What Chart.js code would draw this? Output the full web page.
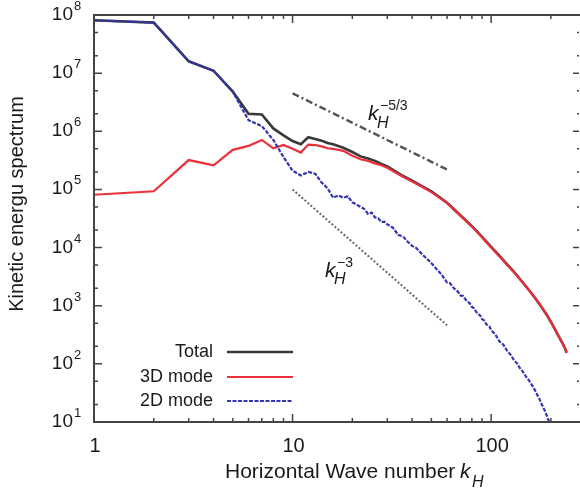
<!DOCTYPE html>
<html>
<head>
<meta charset="utf-8">
<script src="https://cdn.jsdelivr.net/npm/chart.js@4.4.0/dist/chart.umd.min.js"></script>
<style>
    body { margin: 0; background: #fff; }
    canvas { display: block; }
</style>
</head>
<body>
<canvas id="myChart" width="580" height="489"></canvas>
<script>
var kTotal = [1, 2, 3, 4, 5, 6, 7, 8, 9, 10, 11, 12, 13, 14, 15, 16, 18, 20, 22, 24, 26, 28, 30, 35, 40, 45, 50, 60, 70, 80, 90, 100, 110, 120, 130, 140, 150, 160, 170, 180, 190, 200, 210, 220, 230, 236, 240];
var total = [8.1e7, 7.4e7, 1.6e7, 1.1e7, 4.8e6, 2.0e6, 1.95e6, 1.12e6, 8.5e5, 6.8e5, 6.0e5, 7.9e5, 7.4e5, 6.9e5, 6.3e5, 6.0e5, 5.2e5, 4.4e5, 3.7e5, 3.4e5, 3.1e5, 2.75e5, 2.5e5, 1.8e5, 1.42e5, 1.13e5, 9.3e4, 5.9e4, 3.6e4, 2.33e4, 1.53e4, 1.03e4, 7.25e3, 5.2e3, 3.85e3, 2.85e3, 2.14e3, 1.62e3, 1.23e3, 933, 708, 525, 389, 288, 219, 182, 155];
var mode3D = [8.1e4, 9.3e4, 3.2e5, 2.6e5, 4.8e5, 5.6e5, 7.1e5, 5.1e5, 5.8e5, 5.0e5, 4.3e5, 5.9e5, 5.8e5, 5.5e5, 5.1e5, 5.0e5, 4.6e5, 3.8e5, 3.3e5, 3.1e5, 2.8e5, 2.6e5, 2.35e5, 1.74e5, 1.37e5, 1.1e5, 9.0e4, 5.8e4, 3.55e4, 2.3e4, 1.5e4, 1.0e4, 7.1e3, 5.13e3, 3.8e3, 2.82e3, 2.14e3, 1.62e3, 1.23e3, 933, 708, 525, 389, 288, 219, 182, 155];

var kMode2D = [1, 2, 3, 4, 5, 6, 7, 8, 9, 10, 11, 12, 13, 14, 15, 16, 17, 18, 19, 20, 21, 22, 23, 24, 25, 26, 27, 28, 29, 30, 32, 34, 36, 38, 40, 42, 45, 48, 50, 53, 56, 60, 62, 64, 66, 68, 70, 72, 75, 78, 80, 82, 85, 88, 90, 92, 95, 98, 100, 105, 110, 115, 120, 125, 130, 135, 140, 145, 150, 155, 160, 165, 170, 175, 180, 185, 190, 196];
var mode2D = [8.1e7, 7.4e7, 1.6e7, 1.1e7, 4.8e6, 1.55e6, 1.23e6, 7.1e5, 3.6e5, 2.1e5, 1.74e5, 2.0e5, 1.86e5, 1.32e5, 1.05e5, 7.2e4, 7.9e4, 7.2e4, 7.6e4, 6.0e4, 5.5e4, 5.0e4, 4.6e4, 3.8e4, 4.0e4, 3.3e4, 3.2e4, 2.75e4, 2.8e4, 2.5e4, 2.2e4, 1.66e4, 1.55e4, 1.26e4, 1.07e4, 9.8e3, 7.6e3, 6.2e3, 5.4e3, 4.3e3, 3.5e3, 2.5e3, 2.45e3, 2.1e3, 1.9e3, 1.75e3, 1.5e3, 1.48e3, 1.23e3, 1.1e3, 955, 900, 740, 680, 590, 560, 470, 440, 380, 320, 245, 215, 170, 145, 117, 102, 83, 72, 60, 52, 44, 37, 30, 25, 20, 16.5, 13.2, 10];

var kSlope = [10, 60];
var slope53 = [4.5e6, 2.2e5];
var slope3 = [1.0e5, 4.6e2];

var xTicks = [1, 10, 100];
var xTickLabels = ['1', '10', '100'];
var yTicks = [1e1, 1e2, 1e3, 1e4, 1e5, 1e6, 1e7, 1e8];
var yTickExps = ['1', '2', '3', '4', '5', '6', '7', '8'];

var FONT = '"Liberation Sans", Arial, sans-serif';

function toPoints(xs, ys) {
    return xs.map(function (k, i) { return { x: k, y: ys[i] }; });
}

// frame, inward ticks, labels, legend and the k_H notes
var framePlugin = {
    id: 'framePlugin',
    afterDatasetsDraw: function (chart) {
        var ctx = chart.ctx;
        var a = chart.chartArea;
        var xs = chart.scales.x;
        var ys = chart.scales.y;
        ctx.save();

        ctx.strokeStyle = '#444';
        ctx.lineWidth = 2;
        ctx.beginPath();
        ctx.moveTo(a.right + 2, a.top);
        ctx.lineTo(a.left, a.top);
        ctx.lineTo(a.left, a.bottom);
        ctx.lineTo(a.right + 2, a.bottom);
        ctx.stroke();

        ctx.lineWidth = 1.5;
        ctx.beginPath();
        xTicks.forEach(function (d) {
            for (var m = 1; m < 10; m++) {
                var v = m * d;
                if (v > xs.max) break;
                var px = xs.getPixelForValue(v);
                var len = m === 1 ? 8 : 4;
                ctx.moveTo(px, a.bottom); ctx.lineTo(px, a.bottom - len);
                ctx.moveTo(px, a.top); ctx.lineTo(px, a.top + len);
            }
        });
        yTicks.forEach(function (d) {
            [1, 2, 5].forEach(function (m) {
                var v = m * d;
                if (v > ys.max) return;
                var py = ys.getPixelForValue(v);
                var len = m === 1 ? 8 : 4;
                ctx.moveTo(a.left, py); ctx.lineTo(a.left + len, py);
                ctx.moveTo(a.right, py); ctx.lineTo(a.right - len + 2, py);
            });
        });
        ctx.stroke();

        ctx.fillStyle = '#1a1a1a';
        ctx.textBaseline = 'alphabetic';
        yTicks.forEach(function (v, i) {
            var py = ys.getPixelForValue(v);
            ctx.font = '19px ' + FONT;
            ctx.textAlign = 'right';
            ctx.fillText('10', 73, py + 5);
            ctx.font = '13px ' + FONT;
            ctx.textAlign = 'left';
            ctx.fillText(yTickExps[i], 74, py - 5);
        });
        xTicks.forEach(function (v, i) {
            ctx.font = '20px ' + FONT;
            ctx.textAlign = 'center';
            ctx.fillText(xTickLabels[i], xs.getPixelForValue(v) + 1, 452);
        });

        // x title
        ctx.textAlign = 'left';
        ctx.font = '21px ' + FONT;
        ctx.fillText('Horizontal Wave number ', 225, 478);
        ctx.font = 'italic 21px ' + FONT;
        ctx.fillText('k', 460, 478);
        ctx.font = 'italic 16px ' + FONT;
        ctx.fillText('H', 472, 487);

        // y title
        ctx.save();
        ctx.translate(17, 204);
        ctx.rotate(-Math.PI / 2);
        ctx.textAlign = 'center';
        ctx.textBaseline = 'middle';
        ctx.font = '20px ' + FONT;
        ctx.fillText('Kinetic energu spectrum', 0, 0);
        ctx.restore();

        // k_H notes
        ctx.textAlign = 'left';
        ctx.font = 'italic 21px ' + FONT;
        ctx.fillText('k', 368, 120);
        ctx.font = 'italic 16px ' + FONT;
        ctx.fillText('H', 377, 128);
        ctx.font = '14px ' + FONT;
        ctx.fillText('\u22125/3', 380, 110);

        ctx.font = 'italic 21px ' + FONT;
        ctx.fillText('k', 325, 277);
        ctx.font = 'italic 16px ' + FONT;
        ctx.fillText('H', 334, 284);
        ctx.font = '14px ' + FONT;
        ctx.fillText('\u22123', 337, 267);

        // legend
        var rows = [352, 377, 401];
        ctx.font = '18px ' + FONT;
        for (var i = 0; i < 3; i++) {
            var ds = chart.data.datasets[i];
            ctx.fillStyle = '#1a1a1a';
            ctx.textAlign = 'right';
            ctx.textBaseline = 'middle';
            ctx.fillText(ds.label, 213, rows[i]);
            ctx.strokeStyle = ds.borderColor;
            ctx.lineWidth = ds.borderWidth;
            ctx.setLineDash(ds.borderDash || []);
            ctx.beginPath();
            ctx.moveTo(227, rows[i]);
            ctx.lineTo(293, rows[i]);
            ctx.stroke();
        }
        ctx.restore();
    }
};

window.onload = function () {
    var ctx = document.getElementById('myChart').getContext('2d');
    var myChart = new Chart(ctx, {
        type: 'scatter',
        data: {
            datasets: [{
                label: 'Total',
                data: toPoints(kTotal, total),
                showLine: true,
                borderColor: '#383838',
                borderWidth: 2.6,
                pointRadius: 0,
                order: 3
            }, {
                label: '3D mode',
                data: toPoints(kTotal, mode3D),
                showLine: true,
                borderColor: '#ec2f3a',
                borderWidth: 2.2,
                pointRadius: 0,
                order: 2
            }, {
                label: '2D mode',
                data: toPoints(kMode2D, mode2D),
                showLine: true,
                borderColor: '#3535b0',
                borderWidth: 2.2,
                borderDash: [4, 1.5],
                pointRadius: 0,
                order: 1
            }, {
                label: 'k^-5/3',
                data: toPoints(kSlope, slope53),
                showLine: true,
                borderColor: '#555',
                borderWidth: 2.5,
                borderDash: [7, 3, 2, 3],
                pointRadius: 0,
                order: 4
            }, {
                label: 'k^-3',
                data: toPoints(kSlope, slope3),
                showLine: true,
                borderColor: '#666',
                borderWidth: 2,
                borderDash: [2, 2],
                pointRadius: 0,
                order: 4
            }]
        },
        options: {
            responsive: false,
            animation: false,
            layout: { padding: { left: 94, top: 15, right: 1, bottom: 67 } },
            scales: {
                x: { type: 'logarithmic', min: 1, max: 277, display: false },
                y: { type: 'logarithmic', min: 10, max: 1e8, display: false }
            },
            plugins: {
                legend: { display: false },
                tooltip: { enabled: false }
            }
        },
        plugins: [framePlugin]
    });
};
</script>
</body>
</html>
